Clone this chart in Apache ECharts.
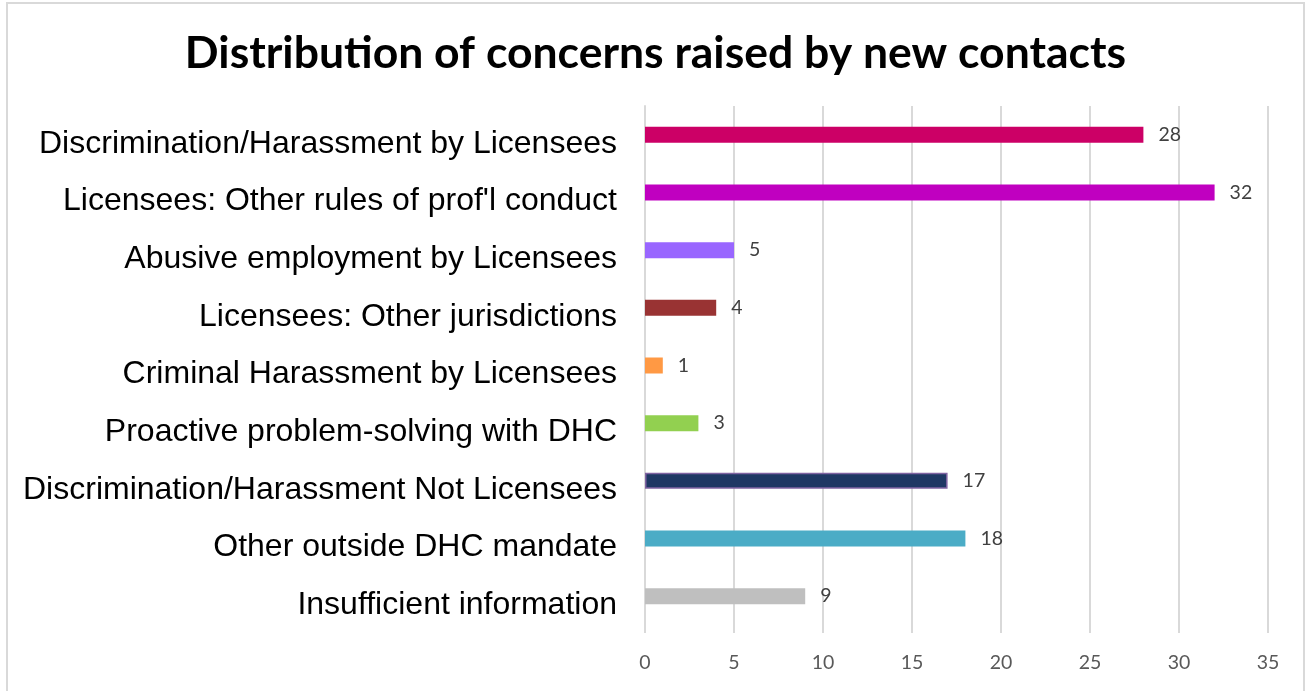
<!DOCTYPE html>
<html>
<head>
<meta charset="utf-8">
<script src="https://cdn.jsdelivr.net/npm/echarts@6/dist/echarts.min.js"></script>
<style>
  html, body { margin: 0; padding: 0; background: #fff; }
  #frame { position: absolute; left: 6px; top: 2px; width: 1299px; height: 700px; border: 2px solid #d9d9d9; box-sizing: border-box; }
  #chart { width: 1311px; height: 691px; }
</style>
</head>
<body>
<div id="frame"></div>
<div id="chart"></div>
<script>
// Concern categories, listed top to bottom
const categories = [
  'Discrimination/Harassment by Licensees',
  "Licensees: Other rules of prof'l conduct",
  'Abusive employment by Licensees',
  'Licensees: Other jurisdictions',
  'Criminal Harassment by Licensees',
  'Proactive problem-solving with DHC',
  'Discrimination/Harassment Not Licensees',
  'Other outside DHC mandate',
  'Insufficient information'
];
// Number of new contacts per category
const counts = [28, 32, 5, 4, 1, 3, 17, 18, 9];
const barColors = ['#CC0066', '#C000C0', '#9966FF', '#993333', '#FF9944', '#92D050', '#1F3864', '#4BACC6', '#BFBFBF'];
const xTicks = [0, 5, 10, 15, 20, 25, 30, 35];

const chart = echarts.init(document.getElementById('chart'));
chart.setOption({
  animation: false,
  title: {
    text: 'Distribution of concerns raised by new contacts',
    left: 'center',
    top: 26,
    textStyle: { fontFamily: 'Lato', fontWeight: 'bold', fontSize: 44.5, color: '#000' }
  },
  grid: { left: 645, right: 43, top: 106, bottom: 66, containLabel: false },
  xAxis: {
    type: 'value',
    min: xTicks[0],
    max: xTicks[xTicks.length - 1],
    interval: 5,
    axisLine: { show: false },
    axisTick: { show: true, length: 8, lineStyle: { color: '#d9d9d9', width: 2 } },
    splitLine: { show: true, lineStyle: { color: '#d9d9d9', width: 2 } },
    axisLabel: { margin: 28, fontFamily: 'Lato', fontSize: 19.5, color: '#595959' }
  },
  yAxis: {
    type: 'category',
    data: categories,
    inverse: true,
    axisLine: { show: true, lineStyle: { color: '#d9d9d9', width: 2 } },
    axisTick: { show: false },
    axisLabel: {
      margin: 28,
      formatter: v => '{c|' + v + '}',
      rich: {
        // labels sit slightly below their bars
        c: { padding: [18, 0, 0, 0], fontFamily: 'Liberation Sans', fontSize: 32, color: '#000' }
      }
    }
  },
  series: [{
    type: 'bar',
    data: counts.map((v, i) => ({
      value: v,
      itemStyle: i === 6
        ? { color: barColors[i], borderColor: '#8064A2', borderWidth: 1.5 }
        : { color: barColors[i] }
    })),
    barWidth: 16,
    label: {
      show: true,
      position: 'right',
      distance: 15,
      fontFamily: 'Lato',
      fontSize: 19.5,
      color: '#404040'
    }
  }]
});
</script>
</body>
</html>
